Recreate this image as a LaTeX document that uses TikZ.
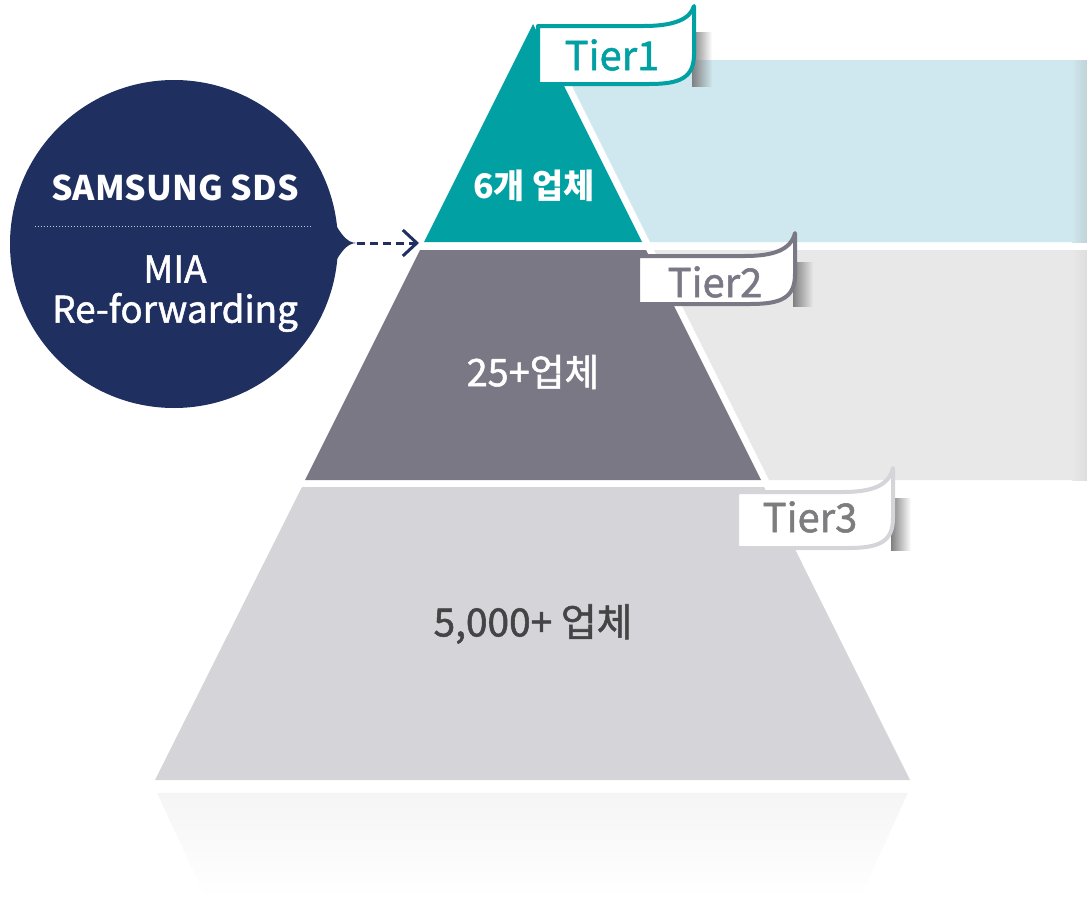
\documentclass[tikz,border=0pt]{standalone}
\usepackage{fontspec}
\setmainfont{Noto Sans CJK KR}
\newfontfamily\medfont{Noto Sans CJK KR}[FakeBold=1.4]
\usepackage{tikz}
\usetikzlibrary{positioning}
\usetikzlibrary{arrows.meta,fadings}

\definecolor{tealtop}{HTML}{00A0A3}
\definecolor{bandblue}{HTML}{CFE7EE}
\definecolor{midgray}{HTML}{7A7885}
\definecolor{bandgray}{HTML}{E8E8E9}
\definecolor{lowgray}{HTML}{D4D4D9}
\definecolor{navy}{HTML}{1F2F60}
\definecolor{tiertext}{HTML}{7D7D80}
\definecolor{basetext}{HTML}{444446}

\tikzfading[name=fade sides, left color=transparent!100, middle color=transparent!0, right color=transparent!100]

% flag: left, top, bottom, right, peak, colour
\newcommand{\tierflag}[6]{%
  \fill[black!50, path fading=east] (#4-2,#2+6) rectangle (#4+18,#3+3);
  \draw[line width=4bp, draw=#6, fill=white, line join=round]
    (#1,#2) -- (#4-50,#2) .. controls (#4-22,#2) and (#4-4,#2-6) .. (#4,#5)
    -- (#4,#3-30) .. controls (#4,#3-6) and (#4-14,#3) .. (#4-45,#3) -- (#1,#3) -- cycle;
}

\begin{document}
\begin{tikzpicture}[x=1bp, y=-1bp]
      \useasboundingbox (0,0) rectangle (1087,898);

      % bands
      \fill[bandblue] (559,60) -- (1087,60) -- (1087,242) -- (650,242) -- cycle;
      \shade[left color=bandblue, right color=bandblue!80!gray] (1072,60) rectangle (1087,242);
      \fill[bandgray] (654,250) -- (1087,250) -- (1087,480) -- (769,480) -- cycle;
      \shade[left color=bandgray, right color=bandgray!90!gray] (1072,250) rectangle (1087,480);

      % floor shadow and reflection
      \shade[top color=black!16, bottom color=white, path fading=fade sides] (0,795) rectangle (1070,822);
      \fill[black!4, path fading=south] (157,793) -- (908,793) -- (860,898) -- (206,898) -- cycle;

      % pyramid
      \fill[tealtop] (533,24) -- (642,242) -- (424,242) -- cycle;
      \fill[midgray] (420,250) -- (646,250) -- (761,480) -- (305,480) -- cycle;
      \fill[lowgray] (302,487) -- (764,487) -- (910,780) -- (155,780) -- cycle;

      \node(top) at (534,186) {\fontsize{34}{40}\selectfont\bfseries\color{white}6개 업체};
      \node(mid) at (533,372) {\fontsize{38}{44}\selectfont\medfont\color{white}25+업체};
      \node(base) at (533,624) {\fontsize{39}{46}\selectfont\medfont\color{basetext}5,000+ 업체};

      % flags
      \tierflag{538}{26}{84}{694}{6}{tealtop}
      \tierflag{638}{256}{304}{795}{233}{midgray}
      \tierflag{737}{492}{548}{893}{468}{lowgray}
      \node(t1) at (612,55) {\fontsize{40}{46}\selectfont\medfont\color{tealtop}Tier1};
      \node(t2) at (715,282) {\fontsize{40}{46}\selectfont\medfont\color{midgray}Tier2};
      \node(t3) at (810,517) {\fontsize{40}{46}\selectfont\medfont\color{tiertext}Tier3};

      % circle
      \node(sdsc) [circle, fill=navy, minimum size=328bp, inner sep=0pt] at (174,244) {};
      \fill[navy] (325,205) .. controls (340,234) and (346,243) .. (357,243)
                  .. controls (346,243) and (340,252) .. (325,281) -- cycle;
      \node(sds) [inner sep=0pt] at (175,188) {\fontsize{34}{40}\selectfont\bfseries\color{white}SAMSUNG SDS};
      \node(mia) [inner sep=0pt, below=54bp of sds] {\fontsize{37}{44}\selectfont\medfont\color{white}MIA};
      \node(refwd) [inner sep=0pt, below=10bp of mia] {\fontsize{37}{44}\selectfont\medfont\color{white}Re-forwarding};
      \coordinate (dotl) at (35,226);
      \coordinate (dotr) at (313,226);
      \draw[white!75!navy, line width=1bp, dotted] (dotl) -- (dotr);

      \coordinate (tip) at (357,243);
      \coordinate (tierin) at (419,243);
      \draw[navy, line width=3bp, dash pattern=on 8bp off 5bp, -{Straight Barb[length=14bp,width=26bp]}] (tip) -- (tierin);
    \end{tikzpicture}
\end{document}
